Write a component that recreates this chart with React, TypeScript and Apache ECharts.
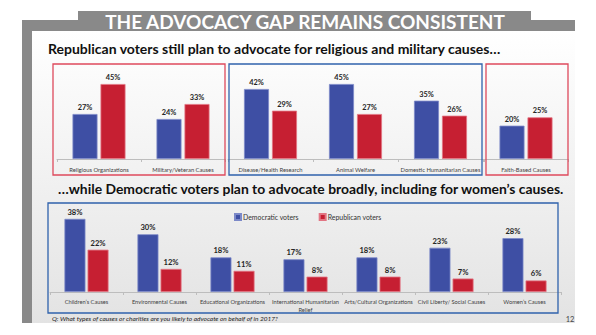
import React, { useEffect, useRef } from "react";
import * as echarts from "echarts";

const catsA = ["Religious Organizations", "Military/Veteran Causes"];
const demA = [27, 24];
const repA = [45, 33];

const catsB = ["Disease/Health Research", "Animal Welfare", "Domestic Humanitarian Causes"];
const demB = [42, 45, 35];
const repB = [29, 27, 26];

const catsC = ["Faith-Based Causes"];
const demC = [20];
const repC = [25];

const catsD = [
  "Children’s Causes",
  "Environmental Causes",
  "Educational Organizations",
  "International Humanitarian\nRelief",
  "Arts/Cultural Organizations",
  "Civil Liberty/ Social Causes",
  "Women’s Causes",
];
const demD = [38, 30, 18, 17, 18, 23, 28];
const repD = [22, 12, 11, 8, 8, 7, 6];

const seriesNames = ["Democratic voters", "Republican voters"];
const titleText = "THE ADVOCACY GAP REMAINS CONSISTENT";
const sub1 = "Republican voters still plan to advocate for religious and military causes…";
const sub2 = "…while Democratic voters plan to advocate broadly, including for women’s causes.";
const footer = "Q: What types of causes or charities are you likely to advocate on behalf of in 2017?";
const pageNum = "12";

const BLUE = "#3E4FA4";
const RED = "#C61F32";
const FONT = "Lato, 'Open Sans', sans-serif";

export default function App() {
  const ref = useRef<HTMLDivElement>(null);
  useEffect(() => {
    if (!ref.current) return;
    const chart = echarts.init(ref.current, null, { renderer: "svg" });

    const grids = [
      { left: 57, width: 168, top: 69, height: 90 },
      { left: 228, width: 255, top: 69, height: 90 },
      { left: 484, width: 84, top: 69, height: 90 },
      { left: 50, width: 511, top: 215, height: 77 },
    ];
    const cats = [catsA, catsB, catsC, catsD];
    const dems = [demA, demB, demC, demD];
    const reps = [repA, repB, repC, repD];
    const maxes = [54, 54, 54, 40];

    const xAxis = cats.map((c, i) => ({
      type: "category",
      gridIndex: i,
      data: c,
      axisLine: { lineStyle: { color: "#BDBDBD", width: 1 } },
      axisTick: { show: true, length: 3, lineStyle: { color: "#BDBDBD" } },
      axisLabel: {
        color: "#404040",
        fontSize: i === 3 ? 5.7 : 5.8,
        fontFamily: FONT,
        margin: i === 3 ? 5 : 6,
        interval: 0,
        lineHeight: 8,
      },
    }));
    const yAxis = maxes.map((m, i) => ({
      type: "value",
      gridIndex: i,
      min: 0,
      max: m,
      show: false,
      splitLine: { show: false },
    }));

    const series: any[] = [];
    for (let i = 0; i < 4; i++) {
      const bw = i === 3 ? 21 : 25;
      const gap = i === 3 ? "10%" : "12%";
      const lbl = {
        show: true,
        position: "top",
        distance: 3,
        formatter: "{c}%",
        fontSize: i === 3 ? 7.6 : 7.4,
        fontWeight: "bold",
        fontFamily: FONT,
        color: "#262626",
      };
      series.push({
        type: "bar",
        name: seriesNames[0],
        xAxisIndex: i,
        yAxisIndex: i,
        data: dems[i],
        barWidth: bw,
        barGap: gap,
        itemStyle: { color: BLUE, borderColor: "#7C89C8", borderWidth: 0.8 },
        label: lbl,
      });
      series.push({
        type: "bar",
        name: seriesNames[1],
        xAxisIndex: i,
        yAxisIndex: i,
        data: reps[i],
        barWidth: bw,
        barGap: gap,
        itemStyle: { color: RED, borderColor: "#E27583", borderWidth: 0.8 },
        label: lbl,
      });
    }

    const FRAME = "#898989";
    const option: any = {
      animation: false,
      backgroundColor: "#FFFFFF",
      textStyle: { fontFamily: FONT },
      grid: grids,
      xAxis,
      yAxis,
      series,
      legend: {
        data: seriesNames,
        left: 229,
        top: 208,
        icon: "rect",
        itemWidth: 6,
        itemHeight: 6,
        itemGap: 20,
        textStyle: { fontSize: 6.9, color: "#333333", fontFamily: FONT, padding: [0, 0, 0, -3] },
      },
      graphic: [
        {
          type: "rect",
          z: -10,
          shape: { x: 32, y: 31, width: 543, height: 292 },
          style: {
            fill: new echarts.graphic.LinearGradient(0, 0, 0, 1, [
              { offset: 0, color: "#FFFFFF" },
              { offset: 1, color: "#E3E3E3" },
            ]),
          },
        },
        { type: "rect", z: -5, shape: { x: 78, y: 11, width: 453, height: 20 }, style: { fill: FRAME } },
        { type: "rect", z: -5, shape: { x: 22, y: 20, width: 553, height: 11 }, style: { fill: FRAME } },
        { type: "rect", z: -5, shape: { x: 22, y: 20, width: 10, height: 303 }, style: { fill: FRAME } },
        {
          type: "text",
          z: 5,
          style: {
            text: titleText,
            x: 305,
            y: 21.5,
            align: "center",
            verticalAlign: "middle",
            fontSize: 19,
            fontWeight: "bold",
            fontFamily: FONT,
            fill: "#FFFFFF",
          },
        },
        {
          type: "text",
          z: 5,
          style: {
            text: sub1,
            x: 48,
            y: 48.5,
            align: "left",
            verticalAlign: "middle",
            fontSize: 14,
            fontWeight: "bold",
            fontFamily: FONT,
            fill: "#111111",
          },
        },
        {
          type: "text",
          z: 5,
          style: {
            text: sub2,
            x: 58,
            y: 188,
            align: "left",
            verticalAlign: "middle",
            fontSize: 13.9,
            fontWeight: "bold",
            fontFamily: FONT,
            fill: "#111111",
          },
        },
        {
          type: "text",
          z: 5,
          style: {
            text: footer,
            x: 52,
            y: 318,
            align: "left",
            verticalAlign: "middle",
            fontSize: 6.5,
            fontStyle: "italic",
            fontFamily: FONT,
            fill: "#222222",
          },
        },
        {
          type: "text",
          z: 5,
          style: {
            text: pageNum,
            x: 570,
            y: 319,
            align: "center",
            verticalAlign: "middle",
            fontSize: 7.5,
            fontFamily: FONT,
            fill: "#444444",
          },
        },
        { type: "rect", z: 1, shape: { x: 53, y: 64, width: 172, height: 111 }, style: { fill: "none", stroke: "#DE4A5C", lineWidth: 1.3 } },
        { type: "rect", z: 1, shape: { x: 229, y: 64, width: 253, height: 111 }, style: { fill: "none", stroke: "#2F62AC", lineWidth: 1.3 } },
        { type: "rect", z: 1, shape: { x: 486, y: 64, width: 82, height: 111 }, style: { fill: "none", stroke: "#DE4A5C", lineWidth: 1.3 } },
        { type: "rect", z: 1, shape: { x: 48, y: 203, width: 510, height: 110 }, style: { fill: "none", stroke: "#2F62AC", lineWidth: 1.3 } },
      ],
    };
    chart.setOption(option);
    return () => chart.dispose();
  }, []);

  return (
    <div
      ref={ref}
      style={{ position: "fixed", left: 0, top: 0, width: 596, height: 335 }}
    />
  );
}
